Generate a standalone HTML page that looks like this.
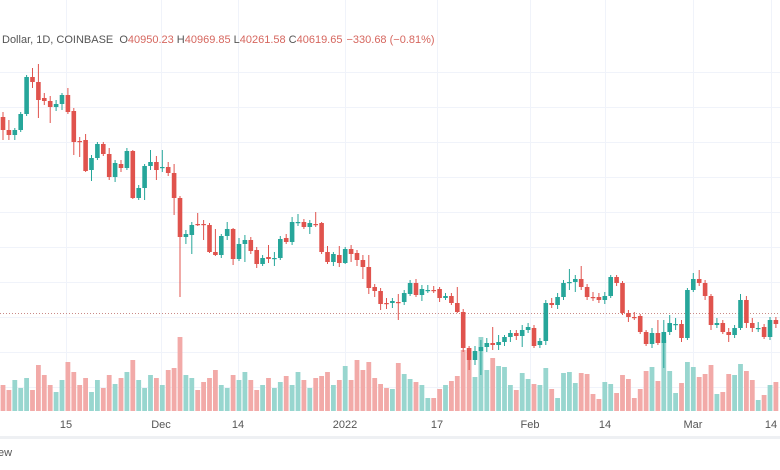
<!DOCTYPE html>
<html><head><meta charset="utf-8"><style>
html,body{margin:0;padding:0;background:#fff;width:780px;height:470px;overflow:hidden;font-family:"Liberation Sans",sans-serif}
</style></head><body>
<svg id="s" width="780" height="470" xmlns="http://www.w3.org/2000/svg" style="position:absolute;left:0;top:0">
<rect width="780" height="470" fill="#fff"/>
<g id="grid" stroke="#f0f3fa" stroke-width="1"></g>
<line x1="0" y1="313.5" x2="780" y2="313.5" stroke="#c98a87" stroke-width="1" stroke-dasharray="1,2"/>
<g id="vol"></g>
<g id="c"></g>
<rect x="0" y="436" width="780" height="3" fill="#eef0f3"/>
<g font-size="11" fill="#555" text-anchor="middle">
<text x="66" y="428">15</text><text x="161" y="428">Dec</text><text x="238" y="428">14</text>
<text x="345" y="428">2022</text><text x="437" y="428">17</text><text x="530" y="428">Feb</text>
<text x="605" y="428">14</text><text x="693" y="428">Mar</text><text x="771" y="428">14</text>
</g>
<text x="-2" y="456" font-size="11" fill="#555">ew</text>
<text x="2" y="43" font-size="11" fill="#555">Dollar, 1D, COINBASE <tspan dx="3">O</tspan><tspan fill="#d6675f">40950.23</tspan><tspan dx="3">H</tspan><tspan fill="#d6675f">40969.85</tspan><tspan dx="3">L</tspan><tspan fill="#d6675f">40261.58</tspan><tspan dx="3">C</tspan><tspan fill="#d6675f">40619.65</tspan><tspan dx="4" fill="#d6675f">−330.68 (−0.81%)</tspan></text>
</svg>
<script>
var C=[[117,130,112,140],[130,135,120,140],[135,130,128,140],[130,114,112,132],[114,77,75,116],[77,82,68,88],[82,100,64,118],[98,101,93,105],[101,107,96,123],[107,104,100,111],[104,95,93,110],[95,112,88,114],[111,142,108,155],[141,141,137,157],[140,171,134,172],[170,158,155,181],[158,144,142,160],[144,154,142,156],[154,177,148,180],[177,163,160,182],[164,168,160,172],[168,151,148,170],[151,198,150,199],[198,188,185,200],[188,166,164,200],[166,162,150,170],[162,170,156,180],[168,167,150,172],[167,173,162,176],[173,198,164,215],[198,237,196,297],[237,234,230,244],[235,225,222,254],[224,224,213,226],[224,225,220,240],[225,252,223,253],[252,255,229,256],[255,236,234,258],[236,229,222,240],[229,259,228,265],[259,244,238,261],[244,240,235,262],[240,251,237,254],[250,264,247,268],[264,258,255,266],[257,259,245,263],[258,258,252,266],[258,239,236,260],[238,242,234,244],[242,222,217,245],[222,222,214,226],[222,227,219,229],[227,223,220,234],[224,224,212,227],[223,252,222,254],[252,262,246,264],[262,254,252,266],[255,263,246,267],[263,249,247,264],[249,254,245,262],[253,260,250,266],[260,267,255,279],[267,288,255,294],[287,291,284,297],[291,304,288,310],[303,303,298,309],
[303,301,298,308],[302,302,294,320],[302,293,290,305],[294,283,280,296],[283,295,279,297],[295,289,285,301],[290,290,285,293],[290,290,286,293],[289,298,287,302],[298,296,293,300],[296,303,293,305],[303,312,287,313],[312,348,309,352],[348,360,346,370],[360,351,346,365],[351,347,340,375],[347,343,338,352],[343,345,327,350],[345,342,335,350],[342,337,335,346],[337,333,330,342],[333,336,330,340],[336,330,325,347],[330,327,323,333],[328,346,325,348],[345,341,338,348],[341,303,300,345],[303,305,298,308],[305,297,293,309],[297,283,280,300],[282,282,269,290],[282,279,275,292],[279,287,266,290],[287,297,284,300],[297,298,292,301],[297,300,293,303],[300,296,292,304],[296,277,275,298],[277,283,275,286],[283,313,281,315],[313,317,310,322],[317,318,312,320],[316,332,314,334],[332,344,330,346],[344,333,328,348],[333,343,320,345],[343,332,320,368],[332,323,315,335],[324,324,318,330],[324,338,320,342],[338,290,288,340],[290,279,273,292],[279,283,270,286],[283,296,280,300],[296,325,294,330],[325,323,318,328],[323,332,320,334],[332,335,328,342],[335,328,325,338],[328,300,294,330],[300,323,296,328],[323,328,318,332],[328,328,322,332],[327,337,324,339],[337,320,317,340],[320,324,317,328]];
var V=[385,390,380,388,378,390,365,375,385,392,380,362,372,385,378,392,380,388,375,384,378,372,360,380,388,375,378,385,370,368,337,375,378,390,382,378,370,385,388,375,380,372,380,390,385,378,388,382,376,385,372,380,388,378,376,372,385,380,366,380,360,370,362,378,384,388,
389,363,374,379,382,385,398,398,389,385,381,376,350,350,377,337,370,358,366,367,385,390,373,379,384,385,368,389,398,373,372,383,373,374,394,399,382,384,393,375,379,398,389,371,367,381,340,371,393,383,362,367,377,374,365,394,392,374,375,364,371,380,400,395,385,382];
var g='',vv='',gr='';
for(var y=72;y<410;y+=35)gr+='<line x1="0" y1="'+(y+.5)+'" x2="780" y2="'+(y+.5)+'"/>';
[66,161,238,345,437,530,605,693,771].forEach(function(x){gr+='<line x1="'+(x+.5)+'" y1="0" x2="'+(x+.5)+'" y2="410"/>';});
document.getElementById('grid').innerHTML=gr;
for(var i=0;i<C.length;i++){var c=C[i],x=3+i*5.9,up=c[1]<c[0]||(c[1]==c[0]&&i%2==0);
var col=up?'#26a69a':'#e0534d',vc=up?'#98d6cf':'#f2aaa8';
var t=Math.min(c[0],c[1]),h=Math.max(Math.abs(c[1]-c[0]),1.2);
g+='<line x1="'+x+'" y1="'+c[2]+'" x2="'+x+'" y2="'+c[3]+'" stroke="'+col+'" stroke-width="1"/>';
g+='<rect x="'+(x-2.3)+'" y="'+t+'" width="4.6" height="'+h+'" fill="'+col+'"/>';
var vt=V[i]||385;vv+='<rect x="'+(x-2.4)+'" y="'+vt+'" width="4.8" height="'+(411-vt)+'" fill="'+vc+'"/>';}
document.getElementById('c').innerHTML=g;document.getElementById('vol').innerHTML=vv;
</script>
</body></html>
